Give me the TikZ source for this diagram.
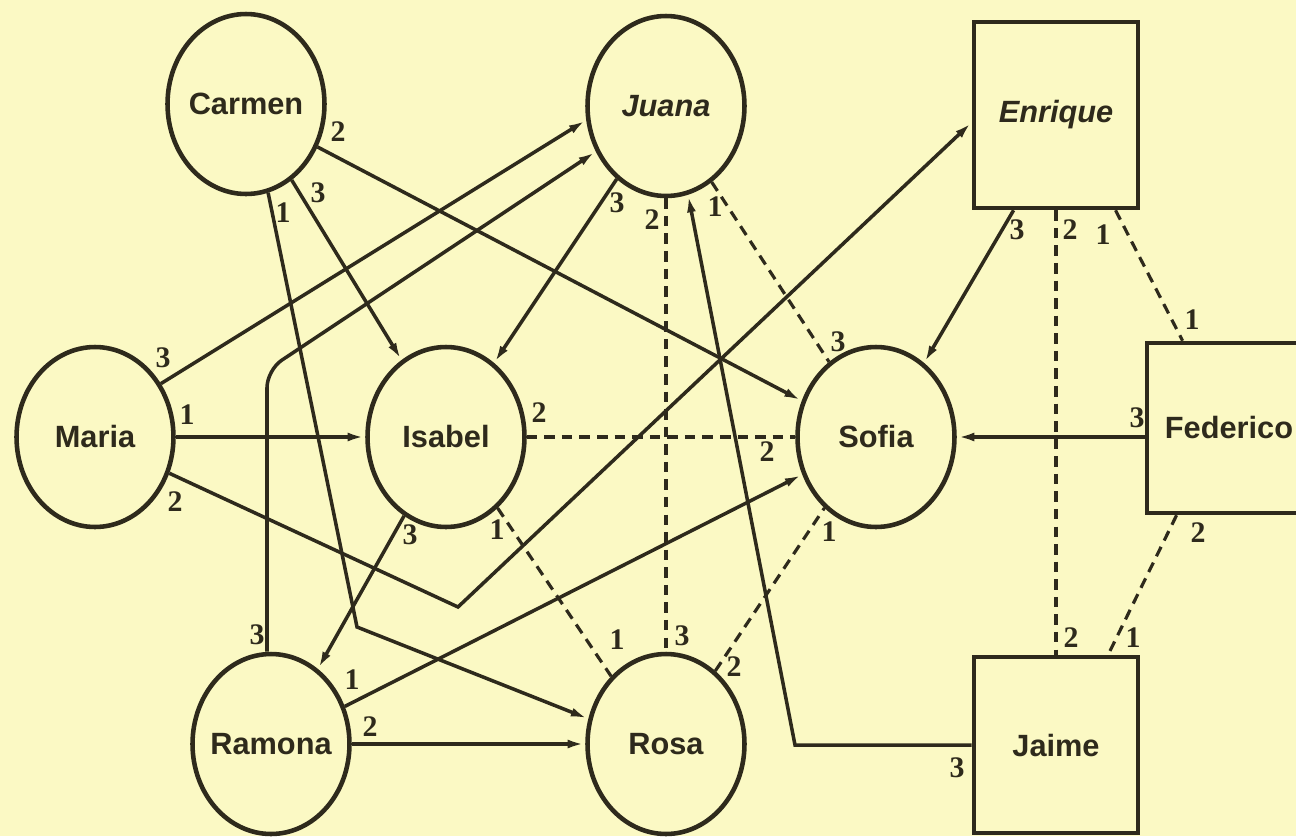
\documentclass[tikz,border=0pt]{standalone}
\usepackage{fontspec}
\setmainfont{Liberation Serif}
\setsansfont{Liberation Sans}
\usepackage{tikz}
\usetikzlibrary{shapes.geometric}
\usetikzlibrary{arrows.meta}
\definecolor{paper}{RGB}{251,249,196}
\definecolor{ink}{RGB}{46,42,28}
\tikzstyle{girl}=[ellipse, draw=ink, text=ink, line width=2.6pt, minimum width=3.14cm, minimum height=3.6cm, inner sep=0pt, font=\sffamily\bfseries\fontsize{17.5}{20}\selectfont]
\tikzstyle{boy}=[rectangle, draw=ink, text=ink, line width=2.6pt, minimum width=3.28cm, inner sep=0pt, font=\sffamily\bfseries\fontsize{17.5}{20}\selectfont]
\tikzstyle{choice}=[draw=ink, line width=2pt, -{Latex[length=10pt,width=5pt]}]
\tikzstyle{mutual}=[draw=ink, line width=1.8pt, dash pattern=on 6pt off 4pt]
\tikzstyle{rank}=[text=ink, inner sep=0pt, font=\bfseries\fontsize{17}{17}\selectfont]
\newcommand{\nm}[1]{\makebox[0pt]{#1}}

\begin{document}
\begin{tikzpicture}[x=0.02cm, y=-0.02cm]
\useasboundingbox[fill=paper] (0,0) rectangle (1296,836);
\clip (0,0) rectangle (1296,836);
\node[girl] (carmen) at (246,104) {\nm{Carmen}};
\node[girl] (juana) at (666,106) {\nm{\itshape Juana}};
\node[girl] (maria) at (95,437) {\nm{Maria}};
\node[girl] (isabel) at (446,437) {\nm{Isabel}};
\node[girl] (sofia) at (876,437) {\nm{Sofia}};
\node[girl] (ramona) at (271,744) {\nm{Ramona}};
\node[girl] (rosa) at (666,744) {\nm{Rosa}};
\node[boy, minimum height=3.72cm] (enrique) at (1056,115) {\itshape Enrique};
\node[boy, minimum height=3.4cm] (federico) at (1229,428) {Federico};
\node[boy, minimum height=3.52cm] (jaime) at (1056,745) {Jaime};
\coordinate (vmaria) at (458,607);
\coordinate (bcarmen) at (357,627);
\coordinate (bjaime) at (795,745);
\coordinate (bramona) at (267,370);

\draw[choice] (maria.east) -- (isabel.west);
\draw[choice] (maria.39) -- (juana.190);
\draw[choice] (maria.-26) -- (vmaria) -- (enrique.185);
\draw[choice] (carmen.-31) -- (sofia.154);
\draw[choice] (carmen.-59) -- (isabel.120);
\draw[choice] (carmen.-76) -- (bcarmen) -- (rosa.162);
\draw[choice] (juana.236) -- (isabel.57);
\draw[mutual] (juana.south) -- (rosa.north);
\draw[mutual] (juana.-59) -- (sofia.122);
\draw[choice] (jaime.west) -- (bjaime) -- (juana.-76);
\draw[choice, rounded corners=10pt] (bramona |- ramona.north) -- (bramona) -- (juana.213);
\draw[choice] (isabel.242) -- (ramona.58);
\draw[mutual] (isabel.-54) -- (rosa.129);
\draw[mutual] (isabel.east) -- (sofia.west);
\draw[choice] (ramona.27) -- (sofia.207);
\draw[choice] (ramona.east) -- (rosa.west);
\draw[mutual] (rosa.56) -- (sofia.234);
\draw[choice] (enrique.-114) -- (sofia.57);
\draw[mutual] (enrique.south) -- (jaime.north);
\draw[mutual] (enrique.-58) -- (federico.118);
\draw[choice] (federico.west |- sofia.east) -- (sofia.east);
\draw[mutual] (federico.-121) -- (jaime.60);

\foreach \n/\x/\y/\lbl in {ma3/163/358/3, ma1/187/415/1, ma2/175/502/2,
	ca2/338/132/2, ca3/318/193/3, ca1/283/213/1,
	ju3/617/203/3, ju2/652/220/2, ju1/715/207/1,
	is2/539/413/2, is3/410/535/3, is1/497/530/1,
	so3/838/342/3, so2/767/452/2, so1/829/532/1,
	ra3/257/635/3, ra1/352/680/1, ra2/370/727/2,
	ro1/617/640/1, ro3/682/636/3, ro2/734/667/2,
	en3/1017/230/3, en2/1070/230/2, en1/1103/235/1,
	fe1/1192/320/1, fe3/1137/418/3, fe2/1198/533/2,
	ja2/1071/638/2, ja1/1133/638/1, ja3/957/768/3} {
	\node[rank] (\n) at (\x,\y) {\lbl};
}
\end{tikzpicture}
\end{document}
